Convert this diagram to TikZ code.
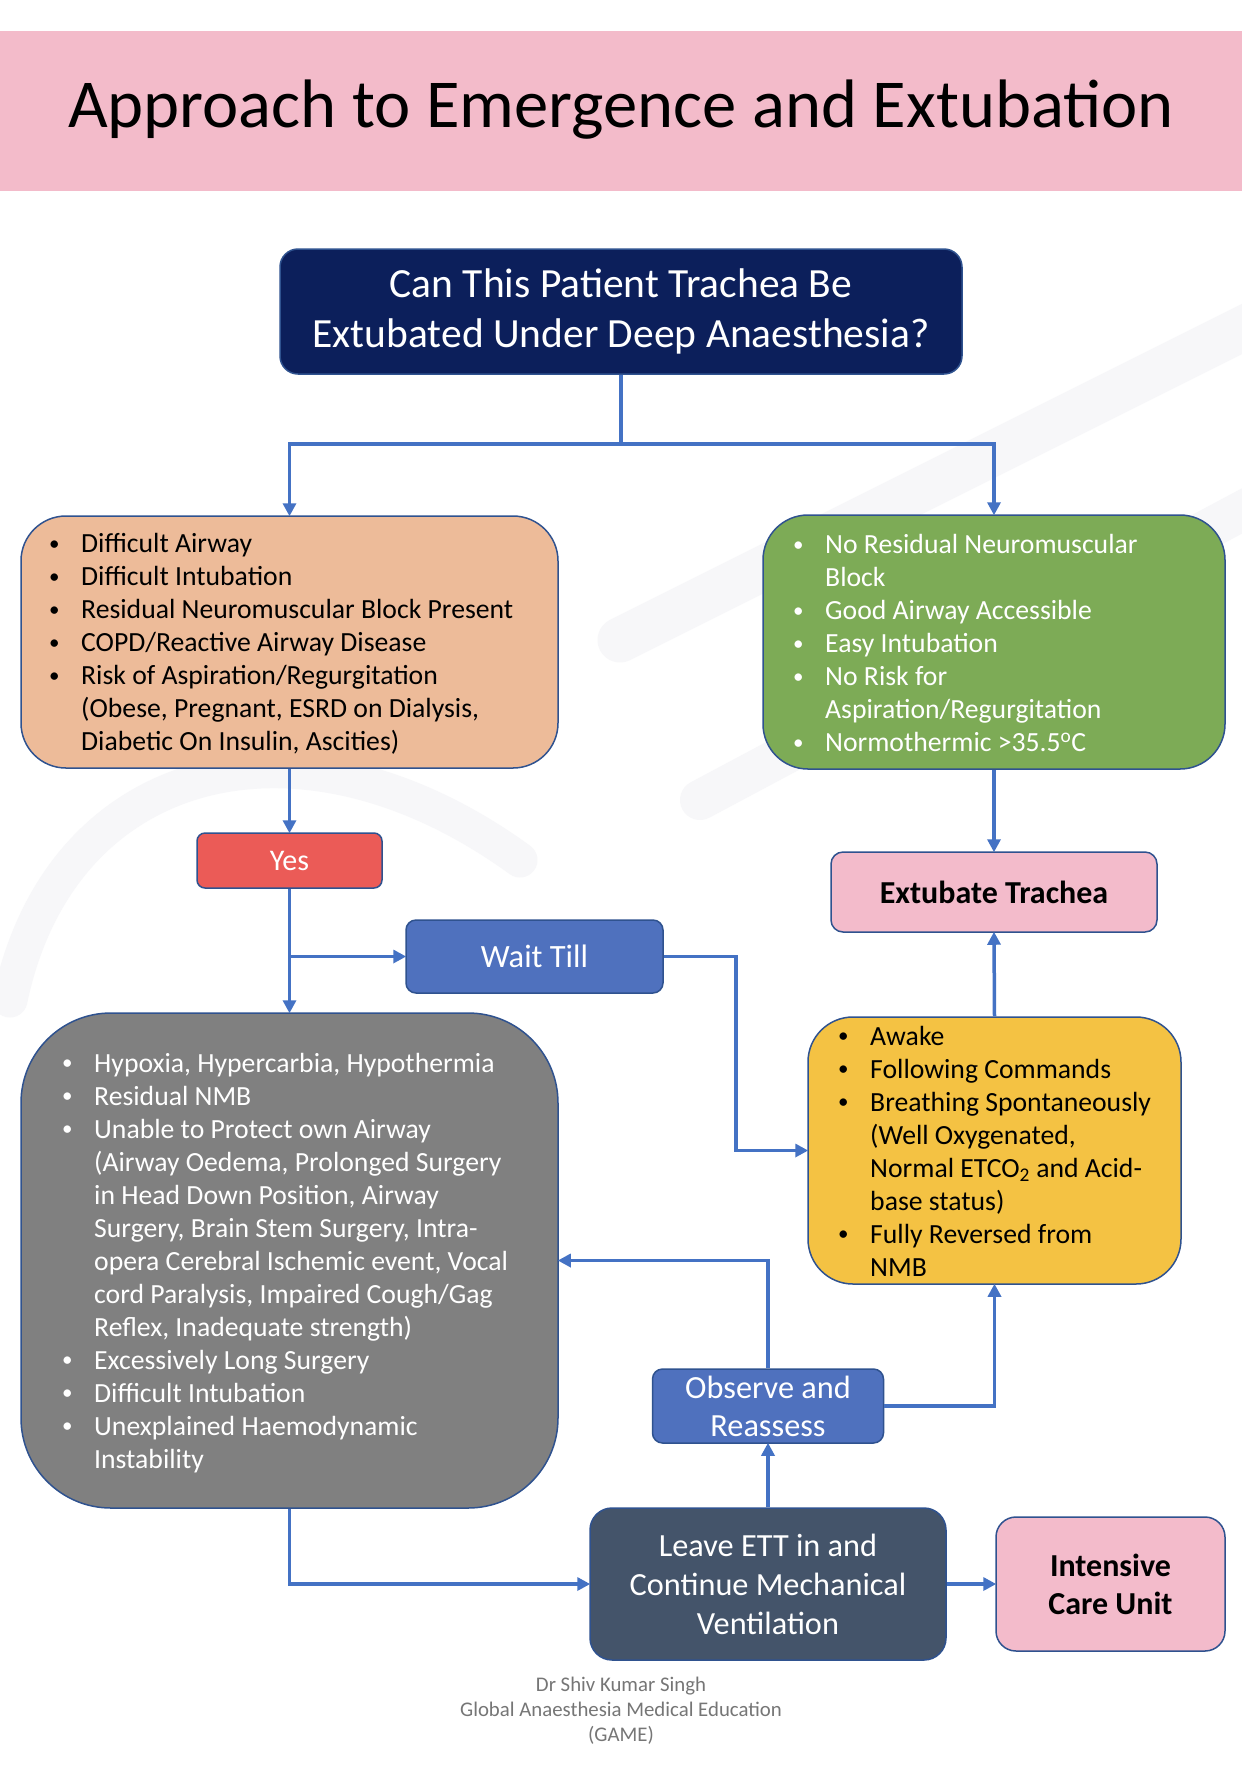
\documentclass[tikz,border=0pt]{standalone}
\usepackage{fontspec}
\setmainfont{Carlito}
\usetikzlibrary{arrows.meta,calc}
\definecolor{bandpink}{RGB}{243,187,202}
\definecolor{navy}{RGB}{12,31,91}
\definecolor{orangebox}{RGB}{237,187,153}
\definecolor{greenbox}{RGB}{125,171,86}
\definecolor{redbox}{RGB}{235,91,87}
\definecolor{bluebox}{RGB}{79,113,190}
\definecolor{yellowbox}{RGB}{244,194,67}
\definecolor{graybox}{RGB}{128,128,128}
\definecolor{slatebox}{RGB}{68,84,106}
\definecolor{pinkbox}{RGB}{243,187,203}
\definecolor{borderc}{RGB}{47,82,143}
\definecolor{arrowc}{RGB}{68,114,196}
\definecolor{footc}{RGB}{118,118,118}
\definecolor{wmark}{RGB}{247,247,249}
\newcommand\bl{\makebox[34pt][l]{\hspace*{2pt}\raisebox{2.5pt}{\fontsize{21}{21}\selectfont •}}}
\newcommand\ind{\hspace*{34pt}}
\begin{document}
\begin{tikzpicture}[x=1pt,y=-1pt,
  box/.style={draw=borderc, line width=1.5pt, inner sep=0pt, align=center},
  listtxt/.style={inner sep=0pt, anchor=west, align=left, font=\fontsize{27.7}{33}\selectfont},
  line/.style={draw=arrowc, line width=3.5pt},
  arr/.style={line, -{Triangle[length=13pt,width=13pt]}, shorten >=-1pt}
]
\useasboundingbox (0,0) rectangle (1242,1792);
\fill[white] (0,0) rectangle (1242,1792);
% watermark
\draw[wmark, line width=45pt, line cap=round] (1300,300) -- (620,640);
\draw[wmark, line width=40pt, line cap=round] (1300,480) -- (700,800);
\draw[wmark, line width=35pt, line cap=round] (10,1000) .. controls (60,760) and (300,700) .. (520,860);
% title band
\node[fill=bandpink, minimum width=1242pt, minimum height=160pt, inner sep=0pt, anchor=north west] (band) at (0,31) {};
\node[inner sep=0pt, font=\fontsize{68.6}{80}\selectfont] (title) at (621,110) {Approach to Emergence and Extubation};
% boxes
\node[box, fill=navy, text=white, rounded corners=18pt, minimum width=682pt, minimum height=125pt,
  font=\fontsize{41.5}{50}\selectfont] (top) at (621,311.5) {Can This Patient Trachea Be\\Extubated Under Deep Anaesthesia?};
\node[box, fill=orangebox, rounded corners=45pt, minimum width=537pt, minimum height=252pt] (or) at (289.5,642) {};
\node[listtxt] (orT) at (47,644) {\bl Difficult Airway\\\bl Difficult Intubation\\\bl Residual Neuromuscular Block Present\\\bl COPD/Reactive Airway Disease\\\bl Risk of Aspiration/Regurgitation\\\ind(Obese, Pregnant, ESRD on Dialysis,\\\ind Diabetic On Insulin, Ascities)};
\node[box, fill=greenbox, rounded corners=45pt, minimum width=462pt, minimum height=254pt] (gr) at (994,642) {};
\node[listtxt, text=white] (grT) at (791,643) {\bl No Residual Neuromuscular\\\ind Block\\\bl Good Airway Accessible\\\bl Easy Intubation\\\bl No Risk for\\\ind Aspiration/Regurgitation\\\bl Normothermic >35.5\textsuperscript{o}C};
\node[box, fill=redbox, text=white, rounded corners=8pt, minimum width=185pt, minimum height=55pt,
  font=\fontsize{30}{36}\selectfont] (yes) at (289.5,860.5) {Yes};
\node[box, fill=bluebox, text=white, rounded corners=10pt, minimum width=257pt, minimum height=73pt,
  font=\fontsize{32.5}{38}\selectfont] (wait) at (534.5,956.5) {Wait Till};
\node[box, fill=pinkbox, rounded corners=12pt, minimum width=326pt, minimum height=80pt,
  font=\fontsize{32}{38}\selectfont\bfseries] (ext) at (994,892) {Extubate Trachea};
\node[box, fill=yellowbox, rounded corners=45pt, minimum width=373pt, minimum height=267pt] (yel) at (994.5,1150.5) {};
\node[listtxt] (yelT) at (836,1151) {\bl Awake\\\bl Following Commands\\\bl Breathing Spontaneously\\\ind(Well Oxygenated,\\\ind Normal ETCO\textsubscript{2} and Acid-\\\ind base status)\\\bl Fully Reversed from\\\ind NMB};
\node[box, fill=graybox, rounded corners=90pt, minimum width=537pt, minimum height=495pt] (gray) at (289.5,1260.5) {};
\node[listtxt, text=white] (grayT) at (60,1263) {\bl Hypoxia, Hypercarbia, Hypothermia\\\bl Residual NMB\\\bl Unable to Protect own Airway\\\ind(Airway Oedema, Prolonged Surgery\\\ind in Head Down Position, Airway\\\ind Surgery, Brain Stem Surgery, Intra-\\\ind opera Cerebral Ischemic event, Vocal\\\ind cord Paralysis, Impaired Cough/Gag\\\ind Reflex, Inadequate strength)\\\bl Excessively Long Surgery\\\bl Difficult Intubation\\\bl Unexplained Haemodynamic\\\ind Instability};
\node[box, fill=bluebox, text=white, rounded corners=10pt, minimum width=231pt, minimum height=74pt,
  font=\fontsize{32.3}{38}\selectfont] (obs) at (768,1406) {Observe and\\Reassess};
\node[box, fill=slatebox, text=white, rounded corners=22pt, minimum width=356pt, minimum height=152pt,
  font=\fontsize{32.3}{39}\selectfont] (leave) at (768,1584) {Leave ETT in and\\Continue Mechanical\\Ventilation};
\node[box, fill=pinkbox, rounded corners=20pt, minimum width=229pt, minimum height=134pt,
  font=\fontsize{32}{38}\selectfont\bfseries] (icu) at (1110.5,1584) {Intensive\\Care Unit};
\node[inner sep=0pt, align=center, text=footc, font=\fontsize{20.8}{25}\selectfont] (foot) at (621,1711) {Dr Shiv Kumar Singh\\Global Anaesthesia Medical Education\\(GAME)};
% connectors
\coordinate (split) at (621,444);
\coordinate (wturn) at (736,956.5);
\draw[line] (top.south) -- (split);
\draw[arr] (split) -| (or.north);
\draw[arr] (split) -| (gr.north);
\draw[arr] (or.south) -- (yes.north);
\draw[arr] (yes.south) -- (gray.north);
\draw[arr] (yes.south |- wait.west) -- (wait.west);
\draw[arr] (wait.east) -- (wturn) |- (yel.west);
\draw[arr] (gr.south) -- (ext.north);
\draw[arr] (yel.north) -- (ext.south);
\draw[arr] (obs.north) |- (gray.east);
\draw[arr] (obs.east) -| (yel.south);
\draw[arr] (leave.north) -- (obs.south);
\draw[arr] (gray.south) |- (leave.west);
\draw[arr] (leave.east) -- (icu.west);
\end{tikzpicture}
\end{document}
